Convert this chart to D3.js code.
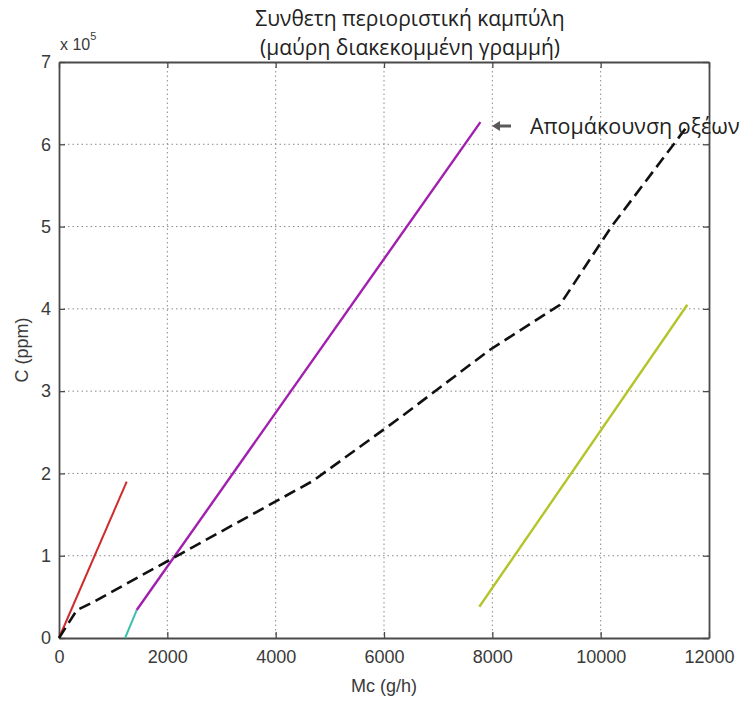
<!DOCTYPE html>
<html><head><meta charset="utf-8">
<script src="https://cdn.jsdelivr.net/npm/d3@7"></script>
<style>body{margin:0;background:#fff}svg{display:block}</style>
</head><body>
<svg id="chart" width="754" height="702"></svg>
<script>
// ---- data ----
const titleLines = ["Συνθετη περιοριστική καμπύλη", "(μαύρη διακεκομμένη γραμμή)"];
const xLabel = "Mc (g/h)";
const yLabel = "C (ppm)";
const annotation = "Απομάκουνση οξέων";
const xTicks = [0, 2000, 4000, 6000, 8000, 10000, 12000];
const yTicks = [0, 100000, 200000, 300000, 400000, 500000, 600000, 700000];
const yTickLabels = ["0", "1", "2", "3", "4", "5", "6", "7"];

const redMc = [0, 1250];
const redC = [0, 190000];
const cyanMc = [1220, 1435];
const cyanC = [0, 34000];
const purpleMc = [1435, 7780];
const purpleC = [34000, 627000];
const yellowMc = [7760, 11600];
const yellowC = [38000, 405000];
const compositeMc = [0, 330, 600, 4690, 6300, 7950, 9250, 10200, 11600];
const compositeC = [0, 34000, 42500, 191000, 268000, 350000, 405000, 500000, 622000];

// ---- layout ----
const svg = d3.select("#chart");
const L = 59, R = 709, T = 62, B = 638;
const x = d3.scaleLinear().domain([0, 12000]).range([L, R]);
const y = d3.scaleLinear().domain([0, 700000]).range([B, T]);

svg.append("rect").attr("width", 754).attr("height", 702).attr("fill", "#fff");

// grid
const grid = svg.append("g").attr("stroke", "#8a8a8a").attr("stroke-width", 1).attr("stroke-dasharray", "1.5,3");
grid.selectAll("line.gx").data(xTicks.slice(1, -1)).join("line")
  .attr("x1", d => x(d)).attr("x2", d => x(d)).attr("y1", T).attr("y2", B);
grid.selectAll("line.gy").data(yTicks.slice(1, -1)).join("line")
  .attr("x1", L).attr("x2", R).attr("y1", d => y(d)).attr("y2", d => y(d));

// axes (MATLAB style inward ticks)
const tickFont = "'Liberation Sans', Arial, sans-serif";
const xAxis = d3.axisBottom(x).tickValues(xTicks).tickFormat(d3.format("d")).tickSizeInner(-6).tickSizeOuter(0).tickPadding(12);
const gx = svg.append("g").attr("transform", `translate(0,${B})`).call(xAxis);
const yAxis = d3.axisLeft(y).tickValues(yTicks).tickFormat((d, i) => yTickLabels[i]).tickSizeInner(-6).tickSizeOuter(0).tickPadding(8);
const gy = svg.append("g").attr("transform", `translate(${L},0)`).call(yAxis);
const xTop = d3.axisTop(x).tickValues(xTicks).tickFormat("").tickSizeInner(-6).tickSizeOuter(0);
const gxt = svg.append("g").attr("transform", `translate(0,${T})`).call(xTop);
const yRight = d3.axisRight(y).tickValues(yTicks).tickFormat("").tickSizeInner(-6).tickSizeOuter(0);
const gyr = svg.append("g").attr("transform", `translate(${R},0)`).call(yRight);
[gx, gy, gxt, gyr].forEach(g => {
  g.select(".domain").attr("stroke", "#4a4a4a").attr("stroke-width", 1.8);
  g.selectAll(".tick line").attr("stroke", "#4a4a4a").attr("stroke-width", 1.3);
  g.selectAll("text").attr("fill", "#3a3a3a").attr("font-family", tickFont).attr("font-size", 18);
});

// series
const line = d3.line().x(d => x(d[0])).y(d => y(d[1]));
const series = [
  {mc: redMc, c: redC, color: "#cf2b2b", w: 2},
  {mc: cyanMc, c: cyanC, color: "#3dbfae", w: 2},
  {mc: purpleMc, c: purpleC, color: "#a11fae", w: 2.4},
  {mc: yellowMc, c: yellowC, color: "#b4c42a", w: 2.4}
];
series.forEach(s => {
  svg.append("path").datum(d3.zip(s.mc, s.c)).attr("d", line)
    .attr("fill", "none").attr("stroke", s.color).attr("stroke-width", s.w);
});
svg.append("path").datum(d3.zip(compositeMc, compositeC)).attr("d", line)
  .attr("fill", "none").attr("stroke", "#111").attr("stroke-width", 2.6)
  .attr("stroke-dasharray", "12,6");

// exponent label
const ex = svg.append("text").attr("x", 60).attr("y", 50).attr("fill", "#3a3a3a")
  .attr("font-family", tickFont).attr("font-size", 16);
ex.append("tspan").text("x 10");
ex.append("tspan").attr("dy", -10).attr("font-size", 11).text("5");

// axis labels
svg.append("text").attr("x", x(6000)).attr("y", 692).attr("text-anchor", "middle")
  .attr("fill", "#3a3a3a").attr("font-family", tickFont).attr("font-size", 18).text(xLabel);
svg.append("text").attr("transform", `translate(28,${y(350000)}) rotate(-90)`).attr("text-anchor", "middle")
  .attr("fill", "#3a3a3a").attr("font-family", tickFont).attr("font-size", 18).text(yLabel);

// title
const titleFont = "'Open Sans', 'Noto Sans', sans-serif";
svg.selectAll("text.title").data(titleLines).join("text").attr("class", "title")
  .attr("x", 410).attr("y", (d, i) => 26 + i * 29).attr("text-anchor", "middle")
  .attr("fill", "#222").attr("font-family", titleFont).attr("font-size", 21).text(d => d);

// annotation arrow (drawn)
const ay = 126;
svg.append("line").attr("x1", 497).attr("x2", 511).attr("y1", ay).attr("y2", ay)
  .attr("stroke", "#5a5a5a").attr("stroke-width", 3);
svg.append("path").attr("d", `M492,${ay} L500,${ay - 5} L500,${ay + 5} Z`).attr("fill", "#5a5a5a");
svg.append("text").attr("x", 530).attr("y", 134).attr("fill", "#222")
  .attr("font-family", titleFont).attr("font-size", 21.5).text(annotation);
</script>
</body></html>
